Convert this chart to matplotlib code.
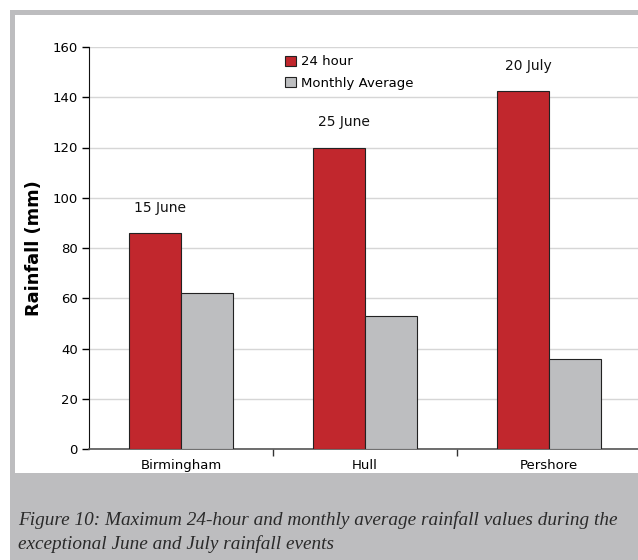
import matplotlib
matplotlib.use("Agg")
import matplotlib.pyplot as plt
import matplotlib.patches as mpatches
import numpy as np

# rainfall data (mm)
sites = ["Birmingham", "Hull", "Pershore"]
event_dates = ["15 June", "25 June", "20 July"]
max_24h = [86, 120, 142.5]
monthly_avg = [62, 53, 36]
y_ticks = [0, 20, 40, 60, 80, 100, 120, 140, 160]

caption = ("Figure 10: Maximum 24-hour and monthly average rainfall values during the\n"
           "exceptional June and July rainfall events")

RED = "#c1272d"
GREY = "#bdbec0"
FRAME = "#bdbdbf"

W, H = 638, 560
fig = plt.figure(figsize=(W / 100, H / 100), dpi=100)
fig.patch.set_facecolor("white")

def px_rect(x0, y0, x1, y1, color):
    # rectangle given in pixels measured from the top-left corner
    fig.patches.append(mpatches.Rectangle((x0 / W, 1 - y1 / H), (x1 - x0) / W, (y1 - y0) / H,
                                          transform=fig.transFigure, facecolor=color,
                                          edgecolor="none", zorder=-10))

px_rect(10, 10, W, H, FRAME)
px_rect(15, 15, W, 473, "white")

ax = fig.add_axes([89 / W, 1 - 449 / H, (641 - 89) / W, (449 - 47) / H])
ax.set_facecolor("none")

x = np.arange(len(sites))
bw = 0.285
ax.bar(x - bw / 2, max_24h, bw, color=RED, edgecolor="#222222", linewidth=0.8,
       label="24 hour", zorder=3)
ax.bar(x + bw / 2, monthly_avg, bw, color=GREY, edgecolor="#222222", linewidth=0.8,
       label="Monthly Average", zorder=3)

for xi, v, d in zip(x, max_24h, event_dates):
    ax.text(xi - bw / 2 + 0.03, v + 10, d, ha="center", va="center", fontsize=10,
            color="#111111")

ax.set_xlim(-0.5, 2.5)
ax.set_ylim(0, 160)
ax.set_yticks(y_ticks)
ax.yaxis.grid(True, color="#d6d6d6", linewidth=1, zorder=0)
ax.set_xticks(x)
ax.set_xticklabels(sites, fontsize=9.5)
ax.set_xticks([0.5, 1.5], minor=True)
ax.tick_params(axis="x", which="major", length=0, pad=7)
ax.tick_params(axis="x", which="minor", length=5, width=1, color="#333333")
ax.tick_params(axis="y", length=5, width=1, labelsize=9.5, pad=3)

for s in ("top", "right"):
    ax.spines[s].set_visible(False)
ax.spines["left"].set_color("#111111")
ax.spines["bottom"].set_color("#555555")
ax.spines["bottom"].set_linewidth(1.2)

ax.set_ylabel("Rainfall (mm)", fontsize=12.8, fontweight="bold", labelpad=7)

ax.legend(loc="upper left", bbox_to_anchor=(280 / W, 1 - 50 / H),
          bbox_transform=fig.transFigure, frameon=False, fontsize=9.5,
          handlelength=0.8, handleheight=0.8, handletextpad=0.4, labelspacing=0.65,
          borderaxespad=0)

fig.text(18 / W, 1 - 532 / H, caption, fontsize=13.9, style="italic",
         family="Liberation Serif", color="#2a2a2a", ha="left", va="center",
         linespacing=1.45)

fig.savefig("out.png", dpi=100)
